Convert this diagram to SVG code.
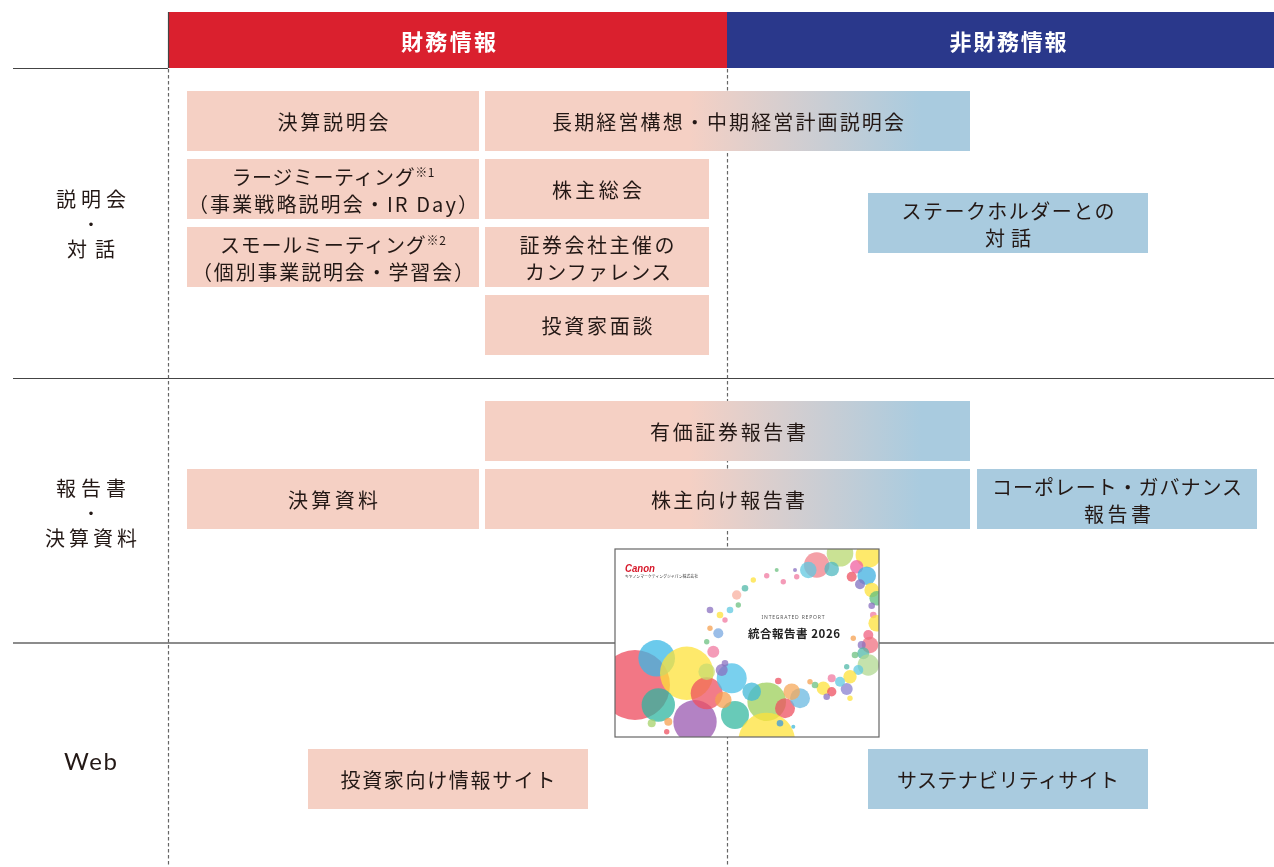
<svg xmlns="http://www.w3.org/2000/svg" width="1274" height="867" viewBox="0 0 1274 867">
  <style>
    .fin { fill: #f5d0c4; }
    .non { fill: #a9cbdf; }
    .mix { fill: url(#finToNon); }
    .lbl { font-family: "Noto Sans CJK JP", "Noto Sans", sans-serif; font-size: 20px; fill: #231815; text-anchor: middle; dominant-baseline: central; }
    .sup { font-size: 12px; }
    .head { font-family: "Noto Sans CJK JP", "Noto Sans", sans-serif; font-size: 22px; font-weight: bold; fill: #ffffff; text-anchor: middle; dominant-baseline: central; }
    .row { font-family: "Noto Sans CJK JP", "Noto Sans", sans-serif; font-size: 20px; fill: #231815; text-anchor: middle; dominant-baseline: central; }
    .sep { font-family: "Noto Sans CJK JP", "Noto Sans", sans-serif; font-size: 14px; font-weight: bold; fill: #231815; text-anchor: middle; dominant-baseline: central; }
    .rule { stroke: #444; stroke-width: 1.2; fill: none; }
    .dash { stroke: #666; stroke-width: 1.2; stroke-dasharray: 3.5 2.5; fill: none; }
    .dot { mix-blend-mode: multiply; }
  </style>
  <defs>
    <linearGradient id="finToNon" x1="0" y1="0" x2="1" y2="0">
      <stop offset="0.42" stop-color="#f5d0c4"/>
      <stop offset="0.9" stop-color="#a9cbdf"/>
    </linearGradient>
    <clipPath id="coverClip">
      <rect x="615" y="549" width="264" height="188"/>
    </clipPath>
  </defs>

  <!-- column headers -->
  <g id="header-financial">
    <rect x="168" y="12" width="559" height="56" fill="#da202e"/>
    <text class="head" x="448.5" y="40" textLength="95" lengthAdjust="spacing">財務情報</text>
  </g>
  <g id="header-nonfinancial">
    <rect x="727" y="12" width="547" height="56" fill="#2a388b"/>
    <text class="head" x="1008" y="40" textLength="117" lengthAdjust="spacing">非財務情報</text>
  </g>

  <!-- grid lines -->
  <g id="grid">
    <line class="rule" x1="13" y1="68.5" x2="168" y2="68.5"/>
    <line class="rule" x1="168.5" y1="12" x2="168.5" y2="68"/>
    <line class="rule" x1="13" y1="378.5" x2="1274" y2="378.5"/>
    <line x1="13" y1="643" x2="1274" y2="643" stroke="#666" stroke-width="1.6"/>
    <line class="dash" x1="168.5" y1="69" x2="168.5" y2="867"/>
    <line class="dash" x1="727.5" y1="69" x2="727.5" y2="867"/>
  </g>

  <!-- row labels -->
  <g id="row-dialogue">
    <text class="row" x="91" y="198" textLength="70" lengthAdjust="spacing">説明会</text>
    <text class="sep" x="91" y="223">・</text>
    <text class="row" x="91" y="248" textLength="48" lengthAdjust="spacing">対話</text>
  </g>
  <g id="row-reports">
    <text class="row" x="91" y="487" textLength="70" lengthAdjust="spacing">報告書</text>
    <text class="sep" x="91" y="512">・</text>
    <text class="row" x="91" y="537" textLength="92" lengthAdjust="spacing">決算資料</text>
  </g>
  <g id="row-web">
    <text x="90.5" y="760" font-family="Lato, 'Noto Sans', sans-serif" font-size="24" fill="#231815" text-anchor="middle" dominant-baseline="central" textLength="53" lengthAdjust="spacing">Web</text>
  </g>

  <!-- dialogue row -->
  <g id="earnings-briefing">
    <rect class="fin" x="187" y="91" width="292" height="60"/>
    <text class="lbl" x="333" y="121" textLength="111" lengthAdjust="spacing">決算説明会</text>
  </g>
  <g id="strategy-briefing">
    <rect class="mix" x="485" y="91" width="485" height="60"/>
    <text class="lbl" x="728" y="121" textLength="352" lengthAdjust="spacing">長期経営構想・中期経営計画説明会</text>
  </g>
  <g id="large-meeting">
    <rect class="fin" x="187" y="159" width="292" height="60"/>
    <text class="lbl"><tspan x="333" y="175.5" textLength="203" lengthAdjust="spacing">ラージミーティング<tspan class="sup" dy="-5">※1</tspan></tspan><tspan x="333" y="203" textLength="290" lengthAdjust="spacing">（事業戦略説明会・IR Day）</tspan></text>
  </g>
  <g id="shareholders-meeting">
    <rect class="fin" x="485" y="159" width="224" height="60"/>
    <text class="lbl" x="597" y="189" textLength="90" lengthAdjust="spacing">株主総会</text>
  </g>
  <g id="stakeholder-dialogue">
    <rect class="non" x="868" y="193" width="280" height="60"/>
    <text class="lbl"><tspan x="1008" y="210" textLength="213" lengthAdjust="spacing">ステークホルダーとの</tspan><tspan x="1008" y="237" textLength="46" lengthAdjust="spacing">対話</tspan></text>
  </g>
  <g id="small-meeting">
    <rect class="fin" x="187" y="227" width="292" height="60"/>
    <text class="lbl"><tspan x="333" y="243.5" textLength="226" lengthAdjust="spacing">スモールミーティング<tspan class="sup" dy="-5">※2</tspan></tspan><tspan x="333" y="271" textLength="282" lengthAdjust="spacing">（個別事業説明会・学習会）</tspan></text>
  </g>
  <g id="broker-conference">
    <rect class="fin" x="485" y="227" width="224" height="60"/>
    <text class="lbl"><tspan x="597" y="243.5" textLength="155" lengthAdjust="spacing">証券会社主催の</tspan><tspan x="598" y="271" textLength="146" lengthAdjust="spacing">カンファレンス</tspan></text>
  </g>
  <g id="investor-interview">
    <rect class="fin" x="485" y="295" width="224" height="60"/>
    <text class="lbl" x="597" y="325" textLength="111" lengthAdjust="spacing">投資家面談</text>
  </g>

  <!-- reports row -->
  <g id="securities-report">
    <rect class="mix" x="485" y="401" width="485" height="60"/>
    <text class="lbl" x="728" y="431" textLength="156" lengthAdjust="spacing">有価証券報告書</text>
  </g>
  <g id="financial-materials">
    <rect class="fin" x="187" y="469" width="292" height="60"/>
    <text class="lbl" x="333" y="499" textLength="90" lengthAdjust="spacing">決算資料</text>
  </g>
  <g id="shareholder-report">
    <rect class="mix" x="485" y="469" width="485" height="60"/>
    <text class="lbl" x="728" y="499" textLength="154" lengthAdjust="spacing">株主向け報告書</text>
  </g>
  <g id="governance-report">
    <rect class="non" x="977" y="469" width="280" height="60"/>
    <text class="lbl"><tspan x="1117" y="486" textLength="250" lengthAdjust="spacing">コーポレート・ガバナンス</tspan><tspan x="1117.5" y="513" textLength="67" lengthAdjust="spacing">報告書</tspan></text>
  </g>

  <!-- integrated report cover -->
  <g id="integrated-report">
    <rect x="615" y="549" width="264" height="188" fill="#ffffff"/>
    <g clip-path="url(#coverClip)" style="isolation:isolate">
      <g class="dot" fill-opacity="0.75">
        <circle cx="635" cy="685" r="35" fill="#ee4a5c"/>
        <circle cx="656.7" cy="658.3" r="18.3" fill="#3ab8e6"/>
        <circle cx="686.7" cy="673.3" r="26.7" fill="#fde13a"/>
        <circle cx="658.3" cy="705" r="16.7" fill="#2fb5a0"/>
        <circle cx="695" cy="721.7" r="21.7" fill="#9a58b0"/>
        <circle cx="706.7" cy="693.3" r="16" fill="#ee5060"/>
        <circle cx="706.7" cy="671.7" r="8.3" fill="#c8dc70"/>
        <circle cx="731.7" cy="678.3" r="15" fill="#4cc0e8"/>
        <circle cx="735" cy="715" r="14" fill="#35b8a0"/>
        <circle cx="766.7" cy="701.7" r="19.3" fill="#9ccf5a"/>
        <circle cx="785" cy="708.3" r="10" fill="#ee5060"/>
        <circle cx="800" cy="698.3" r="10" fill="#6ab8e0"/>
        <circle cx="791.7" cy="691.7" r="8.3" fill="#f5a85a"/>
        <circle cx="766.7" cy="741" r="28.3" fill="#fde13a"/>
        <circle cx="751.7" cy="691.7" r="9.3" fill="#40b8d8"/>
        <circle cx="723.3" cy="700" r="8.3" fill="#f5a050"/>
        <circle cx="721.7" cy="670" r="6" fill="#8a70c0"/>
        <circle cx="651.7" cy="723.3" r="4" fill="#a5d26a"/>
        <circle cx="668.3" cy="721.7" r="4" fill="#f5a050"/>
        <circle cx="666.7" cy="731.7" r="2.7" fill="#ee5060"/>
        <circle cx="780" cy="723.3" r="3.3" fill="#3a9ae0"/>
        <circle cx="793.3" cy="726.7" r="2" fill="#40b8d8"/>
        <circle cx="710" cy="610" r="3.3" fill="#8a70c0"/>
        <circle cx="718.3" cy="633.3" r="5" fill="#7aa8e0"/>
        <circle cx="713.3" cy="651.7" r="6" fill="#f07aa0"/>
        <circle cx="706.7" cy="641.7" r="2.7" fill="#6cc080"/>
        <circle cx="720" cy="615" r="3.3" fill="#fde13a"/>
        <circle cx="725" cy="620" r="2.7" fill="#f07aa0"/>
        <circle cx="730" cy="610" r="3.3" fill="#60c8e0"/>
        <circle cx="736.7" cy="595" r="4.7" fill="#f8b0a0"/>
        <circle cx="745" cy="588.3" r="3.3" fill="#50b8a8"/>
        <circle cx="753.3" cy="580" r="2.7" fill="#fde13a"/>
        <circle cx="766.7" cy="575.7" r="2.7" fill="#f07aa0"/>
        <circle cx="776.7" cy="570" r="2" fill="#6cc080"/>
        <circle cx="783.3" cy="581.7" r="2.7" fill="#f07aa0"/>
        <circle cx="795" cy="570" r="2" fill="#8a70c0"/>
        <circle cx="796.7" cy="576.7" r="2.7" fill="#f07aa0"/>
        <circle cx="738.3" cy="605" r="2.7" fill="#6cc080"/>
        <circle cx="725" cy="663.3" r="3.3" fill="#8a70c0"/>
        <circle cx="710" cy="628.3" r="2.7" fill="#f5a050"/>
        <circle cx="816.7" cy="565" r="12.7" fill="#f0808a"/>
        <circle cx="840" cy="553.3" r="13.3" fill="#b8d870"/>
        <circle cx="868.3" cy="555" r="12.7" fill="#fde13a"/>
        <circle cx="808.3" cy="570" r="8.3" fill="#60c8e0"/>
        <circle cx="831.7" cy="569" r="7.3" fill="#50b8c0"/>
        <circle cx="856.7" cy="566.7" r="6.7" fill="#f060a0"/>
        <circle cx="866.7" cy="575.7" r="9.3" fill="#40b0e0"/>
        <circle cx="851.7" cy="576.7" r="5" fill="#ee5060"/>
        <circle cx="860" cy="584.3" r="5" fill="#8070c0"/>
        <circle cx="871.7" cy="590" r="7.3" fill="#fde13a"/>
        <circle cx="876.7" cy="598.3" r="7.3" fill="#60c080"/>
        <circle cx="871.7" cy="605.7" r="3.3" fill="#8a70c0"/>
        <circle cx="873.3" cy="615" r="3.3" fill="#f07aa0"/>
        <circle cx="876.7" cy="623.3" r="8.3" fill="#fde13a"/>
        <circle cx="868.3" cy="635" r="5" fill="#f06080"/>
        <circle cx="870" cy="645" r="8.3" fill="#f07080"/>
        <circle cx="861.7" cy="645" r="4" fill="#8a70c0"/>
        <circle cx="863.3" cy="653.3" r="6" fill="#50b8a8"/>
        <circle cx="868.3" cy="665" r="10.7" fill="#b0d890"/>
        <circle cx="858.3" cy="670" r="5" fill="#60c8e0"/>
        <circle cx="850" cy="676.7" r="6.7" fill="#fde13a"/>
        <circle cx="846.7" cy="689" r="6" fill="#8a80d0"/>
        <circle cx="840" cy="681.7" r="5" fill="#60c8e0"/>
        <circle cx="831.7" cy="678.3" r="4" fill="#f07aa0"/>
        <circle cx="823.3" cy="688.3" r="6.7" fill="#fde13a"/>
        <circle cx="831.7" cy="691.7" r="4.7" fill="#ee5060"/>
        <circle cx="826.7" cy="696.7" r="3.3" fill="#8a70c0"/>
        <circle cx="815" cy="685" r="3.3" fill="#6cc080"/>
        <circle cx="810" cy="681.7" r="2.7" fill="#f5a050"/>
        <circle cx="778.3" cy="681" r="3.3" fill="#ee5060"/>
        <circle cx="855" cy="655" r="3.3" fill="#6cc080"/>
        <circle cx="846.7" cy="666.7" r="2.7" fill="#50b8a8"/>
        <circle cx="853.3" cy="638.3" r="2.7" fill="#f5a050"/>
        <circle cx="850" cy="698.3" r="2.7" fill="#fde13a"/>
      </g>
      <text x="625" y="572" font-family="'Liberation Sans', sans-serif" font-size="10" font-weight="bold" font-style="italic" fill="#d7182a" textLength="30" lengthAdjust="spacingAndGlyphs">Canon</text>
      <text x="625" y="577.5" font-family="'Noto Sans CJK JP', sans-serif" font-size="4" fill="#333" textLength="73" lengthAdjust="spacingAndGlyphs">キヤノンマーケティングジャパン株式会社</text>
      <text x="793" y="619" font-family="'Noto Sans', sans-serif" font-size="5" fill="#555" text-anchor="middle" textLength="63" lengthAdjust="spacing">INTEGRATED REPORT</text>
      <text x="794" y="638" font-family="'Noto Sans CJK JP', sans-serif" font-size="11.5" font-weight="bold" fill="#222" text-anchor="middle" textLength="92" lengthAdjust="spacing">統合報告書 2026</text>
    </g>
    <rect x="615" y="549" width="264" height="188" fill="none" stroke="#666" stroke-width="1.2"/>
  </g>

  <!-- web row -->
  <g id="investor-site">
    <rect class="fin" x="308" y="749" width="280" height="60"/>
    <text class="lbl" x="448" y="779" textLength="215" lengthAdjust="spacing">投資家向け情報サイト</text>
  </g>
  <g id="sustainability-site">
    <rect class="non" x="868" y="749" width="280" height="60"/>
    <text class="lbl" x="1008" y="779" textLength="222" lengthAdjust="spacing">サステナビリティサイト</text>
  </g>
</svg>
